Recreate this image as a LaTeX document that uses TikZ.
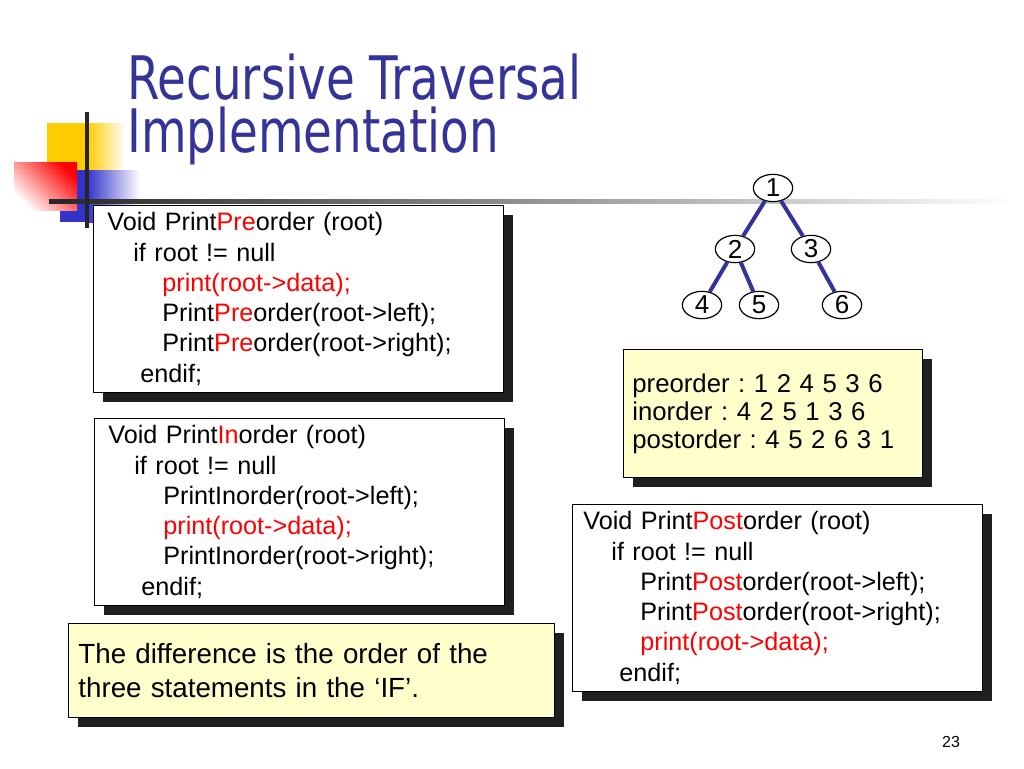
\documentclass[tikz,border=0pt]{standalone}
\usepackage{fontspec}
\setmainfont{Liberation Sans}
\newfontfamily\titlefont[FakeStretch=0.78]{DejaVu Sans}
\usetikzlibrary{shapes.geometric,shadows}
\definecolor{titleblue}{HTML}{333399}
\definecolor{codered}{HTML}{FF0000}
\definecolor{noteyellow}{HTML}{FFFFCC}
\definecolor{decoyellow}{HTML}{FFCC00}
\definecolor{decoblue}{HTML}{3333CC}
\newcommand\kw[1]{\textcolor{codered}{#1}}
\frenchspacing
\tikzset{
  boxshadow/.style={drop shadow={shadow xshift=7.5pt,shadow yshift=-7.5pt,opacity=1,fill=black!88}},
  codebox/.style={draw,line width=0.6pt,fill=white,anchor=north west,align=left,
    inner xsep=10.5pt,text width=286.5pt,minimum height=140.25pt,
    font=\fontsize{18.9}{22.7}\selectfont,boxshadow},
  notebox/.style={draw,line width=0.6pt,fill=noteyellow,anchor=north west,align=left,boxshadow},
  vertex/.style={ellipse,draw,line width=0.9pt,fill=white,minimum width=29.5pt,
    minimum height=20.5pt,inner sep=0pt,font=\fontsize{19.5}{20}\selectfont},
  link/.style={draw=titleblue,line width=3pt}
}
\begin{document}
\begin{tikzpicture}[x=0.75pt,y=-0.75pt]
\useasboundingbox (0,0) rectangle (1024,768);
\fill[decoyellow] (47,123) rectangle (87,176);
\shade[left color=decoyellow,right color=white] (87,123) rectangle (125,176);
\fill[decoblue] (60,170) rectangle (87,222);
\shade[left color=decoblue,right color=white] (87,170) rectangle (140,222);
\shade[left color=white,right color=red,shading angle=135] (14,162) rectangle (77,210);
\shade[left color=black!85,middle color=black!45,right color=white] (49,199) rectangle (1015,203);
\draw[line width=3pt,black!85] (87,112) -- (87,228);
\node[anchor=south west,inner sep=0pt,align=left,titleblue,
  font=\titlefont\fontsize{45}{39.75}\selectfont] (title) at (127,165.5) {Recursive Traversal\\Implementation};
\node[codebox] (preorder) at (93,205) {Void Print\kw{Pre}order (root)\\
\hspace*{19.5pt}if root != null\\
\hspace*{41.25pt}\kw{print(root->data);}\\
\hspace*{41.25pt}Print\kw{Pre}order(root->left);\\
\hspace*{41.25pt}Print\kw{Pre}order(root->right);\\
\hspace*{24.75pt}endif;};
\node[codebox] (inorder) at (94,418) {Void Print\kw{In}order (root)\\
\hspace*{19.5pt}if root != null\\
\hspace*{41.25pt}PrintInorder(root->left);\\
\hspace*{41.25pt}\kw{print(root->data);}\\
\hspace*{41.25pt}PrintInorder(root->right);\\
\hspace*{24.75pt}endif;};
\node[codebox,inner xsep=8.25pt,text width=291pt] (postorder) at (572,504) {Void Print\kw{Post}order (root)\\
\hspace*{21pt}if root != null\\
\hspace*{42.75pt}Print\kw{Post}order(root->left);\\
\hspace*{42.75pt}Print\kw{Post}order(root->right);\\
\hspace*{42.75pt}\kw{print(root->data);}\\
\hspace*{27pt}endif;};
\node[notebox,inner xsep=7.5pt,text width=349.5pt,minimum height=70.5pt,
  font=\fontsize{20.8}{25.5}\selectfont] (diff) at (68,623) {The difference is the order of the\\three statements in the ‘IF’.};
\node[notebox,inner xsep=6.75pt,text width=210.75pt,minimum height=96pt,
  font=\fontsize{19.3}{21}\selectfont] (orders) at (623,349) {preorder : 1 2 4 5 3 6\\inorder : 4 2 5 1 3 6\\postorder : 4 5 2 6 3 1};
\node[vertex] (v1) at (773,188) {1};
\node[vertex] (v2) at (735,249) {2};
\node[vertex] (v3) at (811,249) {3};
\node[vertex] (v4) at (702,305) {4};
\node[vertex] (v5) at (759,305) {5};
\node[vertex] (v6) at (842,305) {6};
\draw[link] (v1) -- (v2);
\draw[link] (v1) -- (v3);
\draw[link] (v2) -- (v4);
\draw[link] (v2) -- (v5);
\draw[link] (v3) -- (v6);
\node[font=\fontsize{12}{14}\selectfont] (pagenum) at (951,742) {23};
\end{tikzpicture}
\end{document}
